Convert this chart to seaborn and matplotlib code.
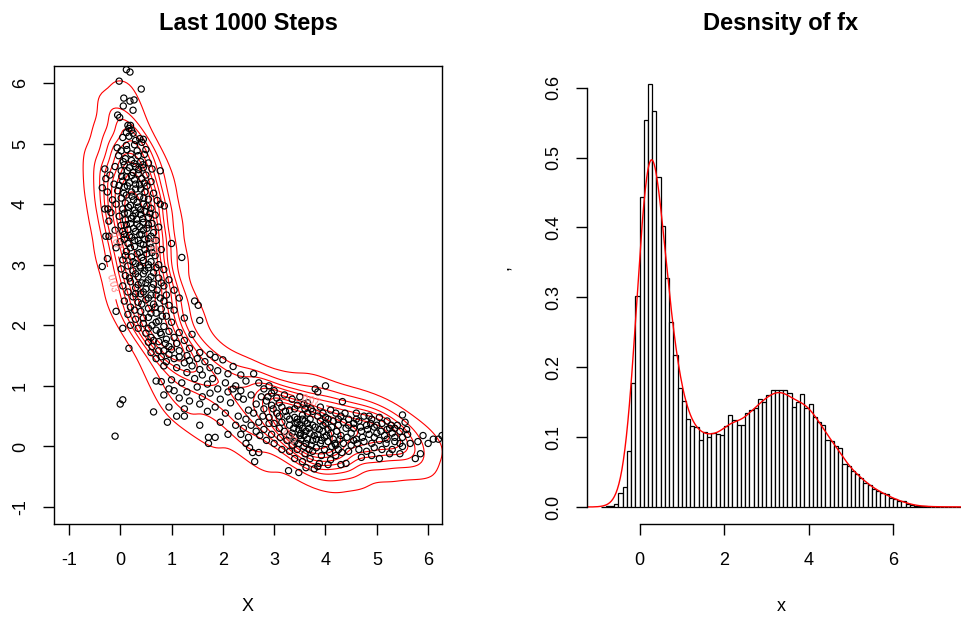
import numpy as np
import pandas as pd
import matplotlib
matplotlib.use("Agg")
import matplotlib.pyplot as plt
import seaborn as sns
from matplotlib.contour import ContourSet

sns.set_theme(style="white")
plt.rcParams["font.family"] = ["Liberation Sans", "DejaVu Sans"]
plt.rcParams["axes.unicode_minus"] = False
plt.rcParams["text.color"] = "black"
plt.rcParams["axes.labelcolor"] = "black"

# ---- sampled chain, last 1000 steps (upper arm, bend, lower arm, dense cores) ----
upper_pts = [
    (0.12, 6.22), (0.19, 6.18), (-0.02, 6.03), (0.41, 5.90), (0.07, 5.75), (0.27, 5.72), (0.19, 5.70),
    (0.06, 5.62), (0.25, 5.55), (-0.05, 5.47), (-0.01, 5.43), (0.15, 5.30), (0.20, 5.30), (0.17, 5.25),
    (0.22, 5.22), (0.12, 5.18), (0.25, 5.17), (0.17, 5.12), (0.05, 5.10), (0.38, 5.08), (0.45, 5.07),
    (0.30, 5.05), (0.42, 5.02), (0.28, 4.98), (0.12, 4.97), (0.50, 4.90), (-0.06, 4.93), (0.02, 4.88),
    (0.47, 4.82), (0.35, 4.80), (-0.03, 4.80), (0.10, 4.75), (0.22, 4.72), (0.40, 4.70), (0.55, 4.68),
    (0.08, 4.65), (0.30, 4.62), (-0.10, 4.62), (0.18, 4.60), (0.45, 4.60), (0.62, 4.58), (0.78, 4.55),
    (-0.30, 4.58), (0.02, 4.55), (0.25, 4.52), (0.35, 4.50), (0.50, 4.48), (-0.20, 4.48), (0.12, 4.45),
    (0.42, 4.42), (-0.28, 4.42), (0.28, 4.40), (0.05, 4.38), (0.60, 4.37), (0.18, 4.35), (-0.12, 4.33),
    (0.38, 4.32), (0.52, 4.30), (-0.35, 4.27), (0.08, 4.28), (0.30, 4.25), (-0.05, 4.22), (0.22, 4.20),
    (0.48, 4.20), (-0.25, 4.20), (0.65, 4.18), (0.12, 4.15), (0.38, 4.12), (0.02, 4.10), (0.55, 4.08),
    (0.26, 4.07), (-0.15, 4.07), (0.72, 4.06), (0.86, 3.97), (0.78, 4.00), (0.10, 4.02), (0.45, 4.00),
    (-0.08, 4.00), (0.20, 3.98), (0.35, 3.95), (-0.30, 3.92), (-0.24, 3.92), (0.60, 3.93), (0.05, 3.92),
    (0.28, 3.90), (0.48, 3.88), (-0.18, 3.86), (0.15, 3.85), (0.40, 3.83), (0.68, 3.82), (-0.02, 3.80),
    (0.25, 3.80), (0.55, 3.78), (0.32, 3.75), (0.10, 3.74), (-0.22, 3.72), (0.45, 3.70), (0.62, 3.68),
    (0.20, 3.68), (0.02, 3.65), (0.38, 3.63), (0.75, 3.62), (0.52, 3.60), (0.15, 3.58), (-0.10, 3.57),
    (0.30, 3.55), (0.65, 3.53), (0.42, 3.50), (0.08, 3.50), (-0.22, 3.47), (-0.28, 3.47), (0.22, 3.45),
    (0.55, 3.43), (0.35, 3.40), (0.70, 3.40), (0.00, 3.38), (0.15, 3.35), (1.00, 3.35), (0.45, 3.33),
    (0.28, 3.30), (0.60, 3.28), (-0.08, 3.28), (0.80, 3.25), (0.12, 3.22), (0.38, 3.20), (0.52, 3.18),
    (0.68, 3.15), (0.22, 3.13), (1.20, 3.12), (-0.25, 3.10), (0.05, 3.08), (0.45, 3.07), (0.60, 3.05),
    (0.30, 3.02), (0.75, 3.00), (0.15, 2.98), (-0.35, 2.97), (0.40, 2.95), (0.02, 2.93), (0.55, 2.95),
    (0.85, 2.92), (0.25, 2.90), (0.65, 2.87), (0.45, 2.85), (0.10, 2.82), (0.35, 2.80), (0.75, 2.78),
    (0.55, 2.75), (0.95, 2.75), (0.20, 2.72), (0.42, 2.70), (0.65, 2.68), (0.05, 2.65), (0.85, 2.65),
    (0.30, 2.62), (0.50, 2.60), (0.72, 2.58), (1.05, 2.58), (0.15, 2.55), (0.40, 2.52), (0.60, 2.50),
    (0.90, 2.50), (0.25, 2.47), (0.78, 2.45), (0.50, 2.42), (1.15, 2.45), (1.45, 2.40), (1.52, 2.33),
    (0.08, 2.40), (0.35, 2.38), (0.65, 2.35), (0.95, 2.33), (0.20, 2.30), (0.55, 2.28), (0.80, 2.27),
    (1.05, 2.25), (0.40, 2.23), (0.70, 2.20), (-0.08, 2.23), (0.15, 2.18), (0.90, 2.15), (0.55, 2.13),
    (1.25, 2.12), (0.30, 2.10), (0.75, 2.07), (1.00, 2.05), (0.45, 2.03), (0.62, 2.00), (0.85, 1.98),
    (0.20, 2.00), (0.05, 1.95), (1.55, 2.08),
]

bend_pts = [
    (0.35, 1.95), (0.70, 1.92), (0.95, 1.90), (1.15, 1.88), (0.50, 1.87), (0.80, 1.85), (1.40, 1.85),
    (0.60, 1.80), (1.05, 1.80), (0.90, 1.77), (0.75, 1.73), (1.25, 1.75), (0.55, 1.72), (1.10, 1.70),
    (0.62, 1.65), (0.95, 1.65), (0.17, 1.62), (1.35, 1.62), (0.75, 1.58), (1.15, 1.58), (0.60, 1.55),
    (1.55, 1.55), (0.95, 1.52), (1.30, 1.50), (1.75, 1.52), (0.80, 1.48), (1.05, 1.45), (1.50, 1.45),
    (1.85, 1.47), (0.90, 1.40), (1.25, 1.38), (1.65, 1.40), (2.00, 1.43), (1.40, 1.33), (0.85, 1.33),
    (1.10, 1.30), (1.75, 1.30), (1.55, 1.27), (2.20, 1.32), (1.90, 1.25), (1.30, 1.22), (2.10, 1.20),
    (1.60, 1.18), (0.70, 1.08), (1.00, 1.10), (1.45, 1.12), (1.80, 1.12), (2.35, 1.18), (2.05, 1.05),
    (1.20, 1.05), (1.70, 1.03), (0.80, 1.07), (2.25, 1.00), (1.50, 0.98), (1.90, 0.95), (0.95, 0.95),
    (1.05, 0.92), (1.30, 0.90), (2.10, 0.90), (1.75, 0.88), (0.85, 0.85), (1.60, 0.82), (2.30, 0.82),
    (1.15, 0.80), (1.95, 0.78), (1.35, 0.75), (0.05, 0.77), (0.00, 0.70), (1.55, 0.70), (2.15, 0.72),
    (1.85, 0.65), (0.95, 0.65), (1.25, 0.62), (0.65, 0.57), (1.70, 0.58), (2.05, 0.55), (1.10, 0.50),
    (0.92, 0.40), (1.55, 0.35), (1.25, 0.50), (1.95, 0.40), (1.72, 0.15), (1.85, 0.15), (1.72, 0.05),
    (-0.10, 0.17), (2.25, 0.35), (2.10, 0.20),
]

lower_pts = [
    (2.20, 0.95), (2.35, 0.92), (2.45, 1.08), (2.60, 1.20), (2.40, 0.78), (2.55, 0.85), (2.70, 1.05),
    (2.80, 0.95), (2.90, 1.00), (2.75, 0.82), (2.95, 0.88), (3.00, 0.92), (2.50, 0.60), (2.65, 0.70),
    (2.85, 0.75), (3.05, 0.80), (2.30, 0.50), (2.45, 0.45), (2.60, 0.55), (2.80, 0.62), (2.95, 0.68),
    (3.10, 0.72), (2.40, 0.30), (2.55, 0.35), (2.70, 0.40), (2.90, 0.48), (3.05, 0.55), (2.35, 0.20),
    (2.50, 0.15), (2.65, 0.25), (2.80, 0.28), (3.00, 0.38), (2.52, -0.02), (2.58, -0.10), (2.70, -0.10),
    (2.85, 0.10), (2.95, 0.20), (3.10, 0.30), (2.45, 0.05), (2.62, -0.25), (3.00, 0.05),
    (3.20, 0.85), (3.35, 0.78), (3.50, 0.82), (3.80, 0.95), (3.85, 0.90), (4.00, 1.00), (3.65, 0.72),
    (3.15, 0.65), (3.30, 0.60), (3.45, 0.68), (3.60, 0.62), (3.75, 0.58), (3.90, 0.65), (4.10, 0.60),
    (4.33, 0.74), (4.20, 0.55), (3.25, 0.50), (3.40, 0.48), (3.55, 0.52), (3.70, 0.45), (3.85, 0.50),
    (4.00, 0.48), (4.15, 0.42), (4.30, 0.50), (4.45, 0.45), (3.15, 0.40), (3.30, 0.35), (3.45, 0.40),
    (3.55, 0.30), (3.65, 0.38), (3.80, 0.32), (3.95, 0.35), (4.05, 0.28), (4.25, 0.35), (4.40, 0.30),
    (4.55, 0.38), (3.20, 0.25), (3.35, 0.22), (3.48, 0.28), (3.58, 0.18), (3.70, 0.22), (3.85, 0.20),
    (3.98, 0.15), (4.10, 0.22), (4.30, 0.18), (4.50, 0.22), (3.25, 0.10), (3.40, 0.08), (3.52, 0.12),
    (3.62, 0.05), (3.75, 0.10), (3.90, 0.05), (4.05, 0.08), (4.20, 0.02), (4.35, 0.05), (4.55, 0.10),
    (3.15, -0.05), (3.30, -0.08), (3.45, -0.05), (3.60, -0.12), (3.75, -0.08), (3.92, -0.15),
    (4.08, -0.10), (4.25, -0.05), (4.45, -0.08), (3.40, -0.20), (3.55, -0.25), (3.70, -0.20),
    (3.88, -0.28), (4.10, -0.22), (4.30, -0.30), (4.05, -0.30), (3.28, -0.40), (3.48, -0.43),
    (3.62, -0.35), (3.78, -0.37), (3.85, -0.33), (4.40, -0.28), (3.45, 0.45), (3.50, 0.35),
    (3.60, 0.42), (3.52, 0.22), (3.68, 0.30), (3.40, 0.15), (3.58, 0.00), (3.72, 0.02), (3.82, 0.12),
    (3.95, 0.25), (4.15, 0.12), (3.30, 0.18), (3.65, 0.55), (3.90, 0.42), (4.20, -0.15),
    (4.60, 0.55), (4.75, 0.50), (4.90, 0.45), (5.05, 0.48), (4.65, 0.42), (4.80, 0.35), (4.95, 0.32),
    (5.10, 0.38), (5.25, 0.30), (4.70, 0.25), (4.85, 0.20), (5.00, 0.22), (5.15, 0.18), (5.30, 0.22),
    (5.45, 0.25), (4.60, 0.12), (4.75, 0.08), (4.90, 0.05), (5.05, 0.10), (5.20, 0.12), (5.35, 0.08),
    (5.50, 0.15), (4.65, -0.05), (4.80, -0.08), (4.95, -0.02), (5.10, -0.05), (5.30, -0.05),
    (5.50, 0.00), (4.70, -0.18), (4.90, -0.15), (5.05, -0.20), (5.25, -0.12), (5.45, -0.12),
    (5.50, 0.52), (5.55, 0.40), (5.60, 0.20), (5.65, 0.05), (5.75, -0.20), (5.85, -0.12), (5.80, 0.08),
    (5.90, 0.18), (6.00, 0.05), (6.10, 0.12), (6.20, 0.12), (6.27, 0.18), (5.40, 0.35), (5.20, 0.28),
    (4.55, 0.30),
]

core_pts = [
    (0.13, 4.90), (0.33, 4.88), (0.21, 4.83), (0.06, 4.70), (0.27, 4.67), (0.44, 4.65), (0.14, 4.55),
    (0.36, 4.57), (0.22, 4.47), (0.03, 4.46), (0.47, 4.35), (0.30, 4.33), (0.14, 4.30), (-0.02, 4.31),
    (0.40, 4.25), (0.23, 4.13), (0.46, 4.10), (0.07, 4.18), (0.33, 4.03), (0.16, 3.95), (0.52, 3.97),
    (0.40, 3.91), (0.08, 3.85), (0.30, 3.85), (0.58, 3.85), (0.22, 3.76), (0.44, 3.76), (0.12, 3.66),
    (0.33, 3.67), (0.55, 3.66), (0.26, 3.60), (0.45, 3.57), (0.05, 3.55), (0.38, 3.50), (0.18, 3.48),
    (0.60, 3.47), (0.48, 3.42), (0.28, 3.40), (0.08, 3.42), (0.40, 3.35), (0.58, 3.35), (0.20, 3.28),
    (0.48, 3.25), (0.33, 3.18), (0.62, 3.20), (0.10, 3.15), (0.42, 3.12), (0.55, 3.00), (0.25, 3.05),
    (0.38, 2.98), (0.70, 2.95), (0.48, 2.90), (0.30, 2.85), (0.60, 2.80), (0.18, 2.78), (0.50, 2.70),
    (0.80, 2.70), (0.35, 2.67), (0.62, 2.62), (0.45, 2.55), (0.70, 2.50), (0.30, 2.52), (0.55, 2.45),
    (0.85, 2.40), (0.42, 2.35), (0.68, 2.30), (0.28, 2.25), (0.60, 2.20), (0.82, 2.15), (0.45, 2.12),
    (0.70, 2.05), (0.55, 1.95), (0.78, 1.88), (0.65, 1.75), (0.88, 1.70), (1.00, 1.60), (0.85, 1.58),
    (1.15, 1.48), (0.70, 1.45), (1.35, 1.42),
    (3.30, 0.45), (3.42, 0.38), (3.55, 0.45), (3.62, 0.25), (3.75, 0.35), (3.88, 0.28), (4.00, 0.38),
    (4.12, 0.32), (4.22, 0.25), (4.35, 0.40), (3.38, 0.30), (3.50, 0.18), (3.65, 0.12), (3.78, 0.18),
    (3.92, 0.10), (4.02, 0.18), (4.18, 0.05), (4.28, 0.12), (4.42, 0.15), (3.35, 0.02), (3.48, 0.05),
    (3.68, -0.05), (3.82, -0.02), (3.98, -0.05), (4.12, 0.00), (4.32, -0.10), (4.50, 0.02), (4.62, 0.05),
    (4.72, 0.15), (4.82, 0.28), (4.95, 0.15), (5.08, 0.25), (5.18, 0.05), (5.35, 0.15), (5.28, 0.35),
    (4.68, 0.32), (4.88, 0.38), (3.10, 0.50), (3.22, 0.58), (2.90, 0.38), (2.78, 0.50), (2.98, 0.62),
    (3.12, 0.15), (2.72, 0.18), (2.88, 0.82), (3.40, 0.62), (3.58, 0.70), (3.72, 0.62), (3.95, 0.55),
    (4.05, 0.45), (4.25, 0.45), (4.45, 0.35), (4.38, 0.55), (4.60, 0.45), (4.85, 0.50), (5.00, 0.35),
    (5.20, 0.42), (5.35, 0.30), (5.58, 0.28), (5.45, 0.05),
]

# ---- histogram of fx: breaks every 0.1 from -0.9 to 7.6, density per bin ----
hist_start = -0.9
hist_width = 0.1
hist_density = [
    0.0005, 0.0014, 0.002, 0.005, 0.020, 0.029, 0.080, 0.178, 0.302,           # -0.9 .. 0.0
    0.443, 0.554, 0.605, 0.567, 0.472, 0.402, 0.328, 0.265, 0.217, 0.170,      # 0.0 .. 1.0
    0.152, 0.126, 0.116, 0.115, 0.096, 0.108, 0.100, 0.106, 0.104, 0.103,      # 1.0 .. 2.0
    0.116, 0.132, 0.125, 0.118, 0.118, 0.135, 0.139, 0.142, 0.154, 0.150,      # 2.0 .. 3.0
    0.160, 0.168, 0.167, 0.168, 0.168, 0.163, 0.143, 0.150, 0.162, 0.141,      # 3.0 .. 4.0
    0.148, 0.129, 0.121, 0.118, 0.096, 0.095, 0.088, 0.084, 0.062, 0.058,      # 4.0 .. 5.0
    0.052, 0.047, 0.042, 0.035, 0.031, 0.026, 0.023, 0.020, 0.018, 0.013,      # 5.0 .. 6.0
    0.011, 0.009, 0.008, 0.004, 0.003, 0.002, 0.001, 0.001, 0.0005, 0.0005,    # 6.0 .. 7.0
    0.0005, 0.0, 0.0005, 0.0, 0.0005, 0.0005,                                  # 7.0 .. 7.6
]

chain = pd.DataFrame(upper_pts + bend_pts + lower_pts + core_pts, columns=["x", "y"])
n_bins = len(hist_density)
hist_end = hist_start + hist_width * n_bins
mids = hist_start + hist_width * (np.arange(n_bins) + 0.5)
hist_df = pd.DataFrame({"mid": mids, "density": hist_density})

W, H = 961, 617
fig = plt.figure(figsize=(W / 100, H / 100), dpi=100)
ax1 = fig.add_axes([54 / W, 1 - 524 / H, 388 / W, 458 / H])
ax2 = fig.add_axes([587 / W, 1 - 524 / H, 388 / W, 458 / H])

tick_kw = dict(labelsize=13, length=8, width=1, direction="out", color="black",
               labelcolor="black", bottom=True, left=True, top=False, right=False)
title_kw = dict(fontsize=17, fontweight="bold", pad=26, color="black")

# ---- left panel: chain scatter with density contours ----
sns.kdeplot(data=chain, x="x", y="y", ax=ax1, color="red", levels=10, thresh=0.07,
            bw_adjust=0.6, linewidths=0.8, zorder=2)
for coll in list(ax1.collections):
    if isinstance(coll, ContourSet):
        ax1.clabel(coll, coll.levels[1::3], fmt="%.2f", fontsize=7, colors="#ff8080", inline=True)
sns.scatterplot(data=chain, x="x", y="y", ax=ax1, marker="o", s=20, facecolors="none",
                edgecolors="black", linewidth=0.85, zorder=3)
ax1.set_xlim(-1.29, 6.27)
ax1.set_ylim(-1.28, 6.28)
ax1.set_xticks(range(-1, 7))
ax1.set_yticks(range(-1, 7))
ax1.tick_params(axis="both", **tick_kw)
ax1.tick_params(axis="x", pad=12)
ax1.tick_params(axis="y", pad=10)
for lab in ax1.get_yticklabels():
    lab.set_rotation(90)
    lab.set_va("center")
for sp in ax1.spines.values():
    sp.set_visible(True)
    sp.set_color("black")
    sp.set_linewidth(1)
ax1.set_xlabel("X", fontsize=13, labelpad=21)
ax1.set_ylabel("")
ax1.set_title("Last 1000 Steps", **title_kw)

# ---- right panel: histogram of fx with its density curve ----
sns.histplot(data=hist_df, x="mid", weights="density", binwidth=hist_width,
             binrange=(hist_start, hist_end), stat="count", ax=ax2,
             color="white", edgecolor="black", linewidth=0.9, alpha=1)
sns.kdeplot(data=hist_df, x="mid", weights="density", ax=ax2, color="red",
            bw_method=0.115, cut=4, gridsize=600, linewidth=1)
ax2.set_xlim(-1.243, 7.94)
ax2.set_ylim(-0.0243, 0.631)
ax2.set_xticks([0, 2, 4, 6])
ax2.set_yticks([0.0, 0.1, 0.2, 0.3, 0.4, 0.5, 0.6])
ax2.set_yticklabels(["0.0", "0.1", "0.2", "0.3", "0.4", "0.5", "0.6"])
ax2.tick_params(axis="both", **tick_kw)
ax2.tick_params(axis="x", pad=12)
ax2.tick_params(axis="y", pad=10)
for lab in ax2.get_yticklabels():
    lab.set_rotation(90)
    lab.set_va("center")
for name in ["top", "right"]:
    ax2.spines[name].set_visible(False)
ax2.spines["left"].set_bounds(0, 0.6)
ax2.spines["bottom"].set_bounds(0, 6)
for name in ["left", "bottom"]:
    ax2.spines[name].set_color("black")
    ax2.spines[name].set_linewidth(1)
ax2.set_xlabel("x", fontsize=13, labelpad=21)
ax2.set_ylabel(",", fontsize=13)
ax2.yaxis.set_label_coords(-0.19, 0.56)
ax2.set_title("Desnsity of fx", **title_kw)

fig.savefig("out.png", dpi=100)
